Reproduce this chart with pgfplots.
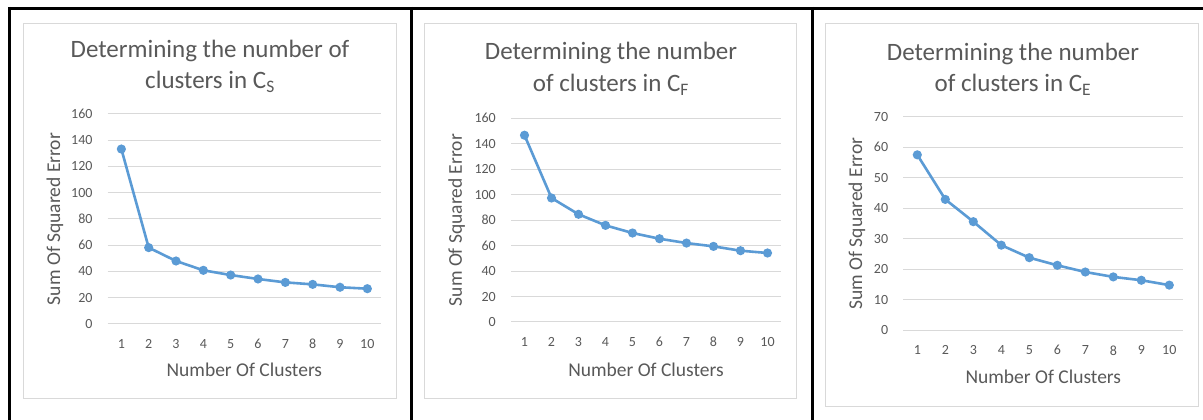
\documentclass[border=0pt]{standalone}
\usepackage{fontspec}
\setmainfont{Carlito}
\usepackage{pgfplots}
\pgfplotsset{compat=1.18}
\definecolor{exblue}{HTML}{5B9BD5}
\definecolor{txtgray}{HTML}{595959}
\definecolor{gridgray}{HTML}{D9D9D9}
\definecolor{framegray}{HTML}{D9D9D9}
\pgfplotstableread{
k cs cf ce
1 133.3 146.7 57.5
2 58.2 97.4 42.9
3 48.0 84.6 35.6
4 40.9 75.9 27.9
5 37.3 69.9 23.8
6 34.3 65.4 21.3
7 31.7 62.0 19.1
8 30.2 59.4 17.5
9 28.0 56.0 16.4
10 26.9 54.2 14.8
}\elbowdata
\pgfplotsset{
  elbow/.style={
    scale only axis, anchor=south west,
    xmin=0.5, xmax=10.5, ymin=0,
    xtick={1,...,10},
    axis line style={draw=none},
    major tick length=0pt,
    ymajorgrids, grid style={gridgray, line width=1pt},
    tick label style={font=\fontsize{14}{16}\selectfont, text=txtgray},
    /pgf/number format/assume math mode=true,
    yticklabel style={anchor=east, inner sep=0pt, xshift=-15pt},
    xticklabel style={anchor=north, inner sep=0pt, yshift=-15pt},
    label style={font=\fontsize{19.5}{22}\selectfont, text=txtgray},
    xlabel={Number Of Clusters}, ylabel={Sum Of Squared Error},
    clip=false,
  },
  elbowline/.style={exblue, line width=2.6pt, mark=*, mark size=3.2pt, mark options={solid, fill=exblue}},
}
\begin{document}
\begin{tikzpicture}[x=1pt,y=1pt]
\useasboundingbox (0,0) rectangle (1203,420);
\fill[white] (0,0) rectangle (1203,420);
% chart area frames
\draw[framegray, line width=1pt] (23.3,{420-23.3}) rectangle (396,{420-399});
\draw[framegray, line width=1pt] (424.3,{420-23.3}) rectangle (796.7,{420-399});
\draw[framegray, line width=1pt] (825.7,{420-23.3}) rectangle (1198,{420-406.7});
% black cell borders
\draw[black, line width=3pt] (8,{420-8.5}) -- (1203,{420-8.5});
\draw[black, line width=3pt] (9.5,{420-7}) -- (9.5,0);
\draw[black, line width=3pt] (411.5,{420-7}) -- (411.5,0);
\draw[black, line width=3pt] (812.5,{420-7}) -- (812.5,0);
% titles
\begin{scope}[every node/.style={font=\fontsize{25}{30}\selectfont, text=txtgray, inner sep=0pt, anchor=base}]
\node at (210,{420-57.7}) {Determining the number of};
\node at (210,{420-88.3}) {clusters in C\textsubscript{S}};
\node at (611,{420-60}) {Determining the number};
\node at (611,{420-91.7}) {of clusters in C\textsubscript{F}};
\node at (1013,{420-60.7}) {Determining the number};
\node at (1013,{420-91.7}) {of clusters in C\textsubscript{E}};
\end{scope}
% panel 1
\begin{axis}[elbow, at={(107.7pt,96pt)}, width=273.3pt, height=210pt,
  ymax=160, ytick={0,20,...,160},
  xlabel style={at={(axis description cs:0.5,-0.219)}, anchor=center},
  ylabel style={at={(axis description cs:-0.193,0.5)}, anchor=center}]
\addplot[elbowline] table[x=k, y=cs] {\elbowdata};
\end{axis}
% panel 2
\begin{axis}[elbow, at={(511pt,98pt)}, width=270pt, height=203.7pt,
  ymax=160, ytick={0,20,...,160},
  xlabel style={at={(axis description cs:0.5,-0.236)}, anchor=center},
  ylabel style={at={(axis description cs:-0.201,0.5)}, anchor=center}]
\addplot[elbowline] table[x=k, y=cf] {\elbowdata};
\end{axis}
% panel 3
\begin{axis}[elbow, at={(903.3pt,89.7pt)}, width=280pt, height=213.6pt,
  ymax=70, ytick={0,10,...,70},
  xlabel style={at={(axis description cs:0.5,-0.219)}, anchor=center},
  ylabel style={at={(axis description cs:-0.166,0.5)}, anchor=center}]
\addplot[elbowline] table[x=k, y=ce] {\elbowdata};
\end{axis}
\end{tikzpicture}
\end{document}
